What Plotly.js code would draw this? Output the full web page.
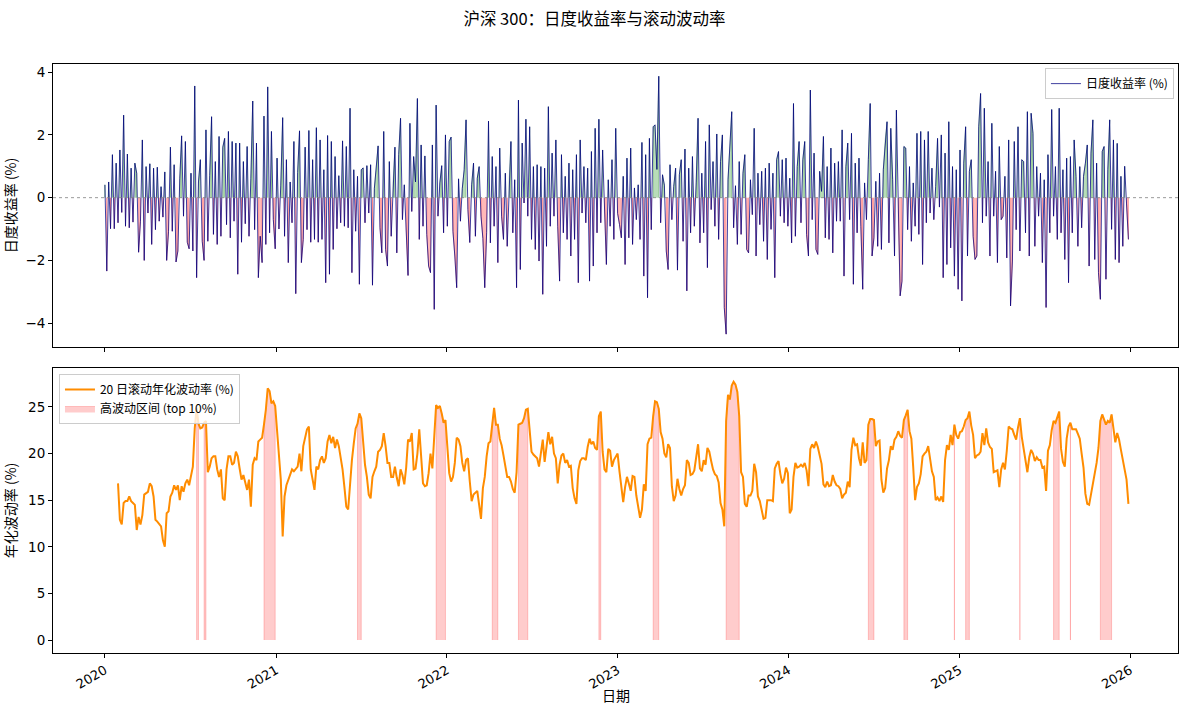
<!DOCTYPE html>
<html><head><meta charset="utf-8">
<script src="https://cdn.plot.ly/plotly-3.0.1.min.js"></script>
<style>html,body{margin:0;padding:0;background:#fff}#chart{width:1189px;height:712px}</style>
</head><body><div id="chart"></div>
<script>
const SERIES_START = '2020-01-01';
const STEP_DAYS = 4;
const VOL_START_INDEX = 7;          // first rolling-vol sample on the same 4-day grid
const HIGH_VOL_THRESHOLD = 23.0;    // top-10% cut-off read from the shading
const TITLE = '沪深 300：日度收益率与滚动波动率';
const RET_NAME = '日度收益率 (%)';
const VOL_NAME = '20 日滚动年化波动率 (%)';
const HIGH_NAME = '高波动区间 (top 10%)';
const RET_AXIS = '日度收益率 (%)';
const VOL_AXIS = '年化波动率 (%)';
const DATE_AXIS = '日期';
const RET_TICKS = [-4, -2, 0, 2, 4];
const VOL_TICKS = [0, 5, 10, 15, 20, 25];

const dailyReturns = [
0.41,-2.34,0.5,-0.99,1.37,-0.99,1.10,-0.80,1.52,-0.47,
2.63,-0.91,1.39,-0.96,0.94,-0.78,1.10,0.78,-1.74,-0.75,
1.84,-2.00,0.99,-0.49,1.08,-1.49,0.94,-1.02,0.97,-0.75,
0.35,-0.62,0.82,-2.0,-1.07,1.61,-1.07,1.05,-2.05,-1.70,
0.6,1.97,-0.59,1.79,-1.42,-1.63,0.78,-1.70,3.56,-2.55,
0.5,1.21,-1.39,-2.0,2.16,-1.39,0.7,2.58,-1.17,1.15,
-1.49,1.95,-1.23,1.61,1.89,-0.86,2.11,-1.28,1.79,-0.75,
1.74,-2.44,1.74,-1.42,1.15,-0.83,1.63,-1.23,0.6,3.08,
-1.02,1.74,-2.55,-1.23,-2.07,2.60,-1.49,3.53,-1.12,2.11,
-0.70,-1.63,1.26,-1.0,0.4,2.55,-1.23,1.21,-2.07,0.5,
-0.80,1.79,-3.06,0.8,2.13,-2.07,-1.33,1.61,-1.02,2.14,
-1.42,1.21,-1.33,2.23,-1.42,1.84,-1.33,0.89,-2.71,1.98,
-2.44,1.79,-1.65,1.31,-0.99,0.7,-0.80,1.81,-0.91,1.63,
-0.96,2.85,-2.39,0.89,-1.07,0.68,-2.76,
0.89,0.95,-0.80,1.02,-0.49,1.05,-2.79,0.3,0.94,1.65,
-0.96,-1.76,2.11,-1.65,-2.18,1.15,-1.23,0.47,1.61,-1.76,
1.37,2.53,-0.70,0.41,-1.02,-2.48,2.37,-0.44,1.31,0.5,
3.16,-1.33,1.68,-0.91,1.33,-1.17,-2.18,-2.39,1.68,-3.56,
2.95,-0.59,0.47,1.02,-1.12,2.0,-0.91,1.79,1.93,-1.07,
-1.86,-2.87,0.6,-0.75,0.3,0.89,2.48,-0.38,-1.43,0.41,
1.1,-1.23,0.62,0.99,-0.59,-1.3,-2.87,-1.12,2.44,-1.44,
1.31,-0.91,0.99,-2.07,1.58,-0.59,-1.33,0.78,-1.55,0.5,
1.79,-1.12,0.57,-2.87,3.11,-2.29,1.74,-0.17,2.50,-0.59,
2.26,-1.33,0.99,-1.65,1.05,-2.02,0.99,-3.08,0.94,-1.55,
2.90,-0.91,1.42,-0.59,1.84,-0.91,-2.66,1.37,-1.12,0.68,
-1.33,1.10,-1.86,0.89,-1.33,1.37,-2.71,1.84,-0.49,0.99,
-0.80,0.94,-2.66,1.47,-2.18,2.21,-1.12,2.50,-0.80,1.52,
-0.28,-2.13,0.57,-0.91,1.21,-1.33,
2.21,-0.5,-0.85,-1.28,0.68,-2.13,1.26,-1.28,1.58,-1.49,
0.31,-0.70,0.41,-1.33,1.76,-2.50,1.37,-3.19,1.89,-1.02,
2.26,2.32,0.9,3.87,-0.80,0.73,0.4,-1.70,-2.29,1.05,
-0.70,0.36,0.94,-2.31,0.73,1.21,-1.39,1.55,-2.97,0.94,
-1.12,1.31,-0.91,0.47,2.53,-1.44,0.78,-1.12,1.79,-2.23,
2.32,-0.38,1.15,-0.91,2.03,-1.33,1.15,2.0,-3.50,-4.35,
0.57,1.65,2.74,-0.96,0.38,-1.49,1.15,-1.17,0.78,1.37,
-1.65,-1.76,0.57,-0.54,2.21,-1.86,0.78,-0.86,0.84,-1.39,
0.94,-1.97,1.10,-1.01,0.78,-2.55,1.21,1.47,-0.59,1.21,
-0.80,1.26,-0.91,0.62,-1.44,3.0,-1.23,0.99,1.79,-0.80,
1.21,1.79,-1.17,-1.86,3.43,-0.70,1.42,-1.65,-1.81,0.84,
0.2,1.95,-1.28,0.99,-1.33,1.58,-1.76,1.10,-0.75,1.15,
-0.75,2.16,-2.50,0.99,1.74,-0.70,2.05,-2.76,1.10,-1.12,
1.26,-0.91,-2.92,0.47,-0.70,1.21,3.0,
-1.86,-1.28,0.52,-1.55,0.78,-1.65,0.89,1.84,2.42,-1.44,
2.21,0.57,-1.86,2.79,-0.54,-3.13,-2.66,1.63,1.58,-1.02,
0.99,-1.39,0.47,-0.91,2.05,-1.17,2.11,-2.13,1.84,-0.80,
2.11,-0.49,0.94,-0.70,0.36,1.89,-0.3,2.0,-2.55,1.42,
-2.13,2.42,-1.60,0.99,-2.50,0.89,-2.92,1.52,-3.29,1.10,
2.26,-1.86,0.84,1.21,-1.23,-1.97,-1.86,2.26,3.32,-0.80,
2.85,-0.59,1.15,-1.86,2.37,-0.59,0.84,-2.07,1.63,-0.70,
-0.59,0.68,-1.92,1.84,-3.45,-2.02,1.79,-1.02,2.26,-1.70,
1.21,1.15,-1.12,2.74,-1.86,2.69,2.05,-1.55,0.99,-0.59,
0.78,-2.07,0.57,-3.50,1.37,-1.12,2.81,-0.59,0.99,-1.33,
2.85,-1.12,0.89,-1.97,1.26,-2.71,1.31,-1.12,1.84,0.68,
-1.55,0.99,-0.96,0.68,1.10,1.68,-2.18,1.42,2.48,-1.97,
1.10,-2.39,-3.24,1.47,1.63,-2.60,0.89,2.48,-1.01,1.84,
-1.97,1.73,-2.07,0.68,-1.55,1.0,-0.2,-1.33
];

const rollingVol = [
16.8,12.9,12.4,14.7,14.9,14.9,15.4,14.9,14.7,14.5,
11.8,13.2,12.4,13.4,15.6,15.8,15.9,16.8,16.5,15.4,
12.9,12.7,12.5,12.2,10.7,10.0,13.6,13.8,15.4,15.8,
16.6,16.1,16.6,15.0,16.5,15.9,16.8,17.2,16.6,17.8,
18.6,22.7,24.9,23.2,22.7,22.8,23.3,23.5,18.0,18.6,
19.5,19.7,19.7,18.3,17.5,18.3,15.2,15.0,18.3,19.7,
19.7,18.8,19.0,20.2,19.7,18.4,17.2,17.7,16.8,16.1,
17.2,14.3,18.8,19.5,19.3,21.3,21.5,21.7,23.1,24.7,
27.0,26.7,25.4,25.6,25.1,22.2,20.0,17.2,11.1,15.4,
16.6,17.2,17.9,18.3,18.1,18.3,18.6,20.0,18.1,20.8,
21.8,22.6,22.9,18.3,17.2,16.1,18.6,18.3,19.3,19.7,
19.0,19.5,21.3,22.0,21.1,21.8,20.6,21.5,20.8,19.7,
18.3,16.4,14.3,14.0,17.2,19.3,21.1,22.7,23.2,24.3,
23.8,21.5,18.8,17.5,15.6,15.2,17.5,18.1,18.6,20.2,
20.4,20.8,22.2,20.8,19.0,19.0,17.5,17.5,18.6,17.4,
16.5,18.3,17.7,16.7,18.5,21.5,21.3,22.2,18.3,18.4,
20.0,22.6,19.5,16.8,16.5,16.6,17.9,20.0,18.4,22.0,
25.2,24.9,25.1,24.3,23.3,23.6,21.0,17.9,17.0,17.5,
19.0,21.7,21.5,20.8,19.0,18.1,19.3,19.5,17.0,14.9,
15.6,15.8,16.0,14.5,13.0,16.3,17.5,19.7,21.1,21.3,
23.2,24.9,23.1,23.1,21.6,20.9,19.8,18.6,17.5,17.5,
17.0,16.2,15.8,18.0,23.1,23.2,23.3,23.8,24.7,24.8,
22.5,20.2,19.9,19.7,19.5,18.6,19.9,21.5,19.1,20.5,
22.3,21.0,21.8,20.0,19.5,16.8,18.8,19.8,20.0,19.0,
19.3,18.6,18.7,16.3,15.2,14.6,18.2,19.2,19.5,19.5,
19.3,20.7,21.6,21.0,21.3,20.6,20.4,24.0,24.5,20.2,
18.3,18.0,20.5,20.3,18.6,19.3,
19.6,20.0,18.1,16.3,14.8,16.4,17.5,16.8,16.0,17.6,
17.5,15.5,14.4,13.1,14.0,16.7,16.0,21.0,21.6,21.7,
24.0,25.6,25.5,24.8,22.3,21.6,20.0,19.6,21.0,20.6,
16.5,14.9,15.5,17.3,16.2,15.5,16.2,16.6,19.3,19.0,
17.7,17.8,18.2,19.5,21.0,18.4,18.1,19.3,18.8,20.6,
20.2,19.2,18.3,17.8,17.6,16.9,14.7,14.0,12.2,23.5,
26.3,25.8,27.3,27.7,27.4,26.6,24.0,18.0,17.5,14.6,
14.3,15.5,15.5,16.0,18.9,18.0,15.4,14.9,14.1,13.0,
13.1,15.0,15.0,15.0,14.9,18.4,18.9,19.2,17.8,16.8,
17.3,18.5,17.9,13.6,14.0,17.5,19.0,18.5,18.6,18.8,
18.6,19.0,18.2,16.5,20.5,21.0,20.6,21.3,20.7,19.9,
18.9,16.7,16.4,17.0,16.5,16.6,17.7,17.0,16.6,16.5,
16.2,15.2,15.6,15.8,17.0,16.4,20.4,21.7,20.9,21.0,
19.5,18.7,21.2,19.0,19.3,23.1,23.7,
23.7,23.6,20.8,21.3,21.4,17.2,15.8,16.3,18.4,19.3,
20.8,20.4,21.5,21.8,22.4,21.9,21.7,23.6,24.1,24.7,
22.4,21.6,18.5,15.0,16.4,16.8,17.8,19.7,20.0,20.2,
20.8,19.2,18.1,17.5,15.0,15.3,14.9,15.4,14.8,19.3,
20.9,20.4,22.0,20.9,23.1,22.0,21.6,22.3,22.4,22.9,
23.6,23.8,24.5,23.0,22.0,19.5,19.8,19.9,20.2,22.2,
20.9,22.7,21.2,20.7,20.5,18.0,18.1,18.2,16.4,18.3,
19.0,18.3,20.3,22.9,22.7,22.6,22.0,21.5,22.8,23.8,
21.8,20.5,19.6,18.0,19.6,20.4,20.0,19.2,19.6,19.3,
19.3,18.5,18.6,16.0,20.3,20.9,22.5,23.5,23.3,23.8,
24.5,20.5,19.1,18.6,21.6,22.9,23.3,22.6,22.6,22.6,
22.1,21.6,20.0,18.5,15.7,14.6,14.5,15.6,17.1,18.2,
19.0,20.6,23.5,24.2,23.7,23.1,23.5,23.3,24.2,22.5,
21.2,22.2,21.5,20.4,19.3,18.3,17.2,14.6
];

// ---- build the date grid ----
const DAY_MS = 86400000;
const startMs = Date.parse(SERIES_START + 'T00:00:00Z');
function gridDate(i) { return new Date(startMs + i * STEP_DAYS * DAY_MS).toISOString().slice(0, 10); }
const retDates = dailyReturns.map((_, i) => gridDate(i));
const volDates = rollingVol.map((_, i) => gridDate(i + VOL_START_INDEX));

// fill_between(where=...) equivalent: one closed polygon per contiguous run, separated by gaps
function runPolygons(dates, vals, test) {
  const xs = [], ys = [];
  let i = 0;
  while (i < vals.length) {
    if (test(vals[i])) {
      let j = i;
      while (j + 1 < vals.length && test(vals[j + 1])) j++;
      xs.push(dates[i]); ys.push(0);
      for (let k = i; k <= j; k++) { xs.push(dates[k]); ys.push(vals[k]); }
      xs.push(dates[j]); ys.push(0);
      xs.push(null); ys.push(null);
      i = j + 1;
    } else i++;
  }
  return {x: xs, y: ys};
}
const posPoly = runPolygons(retDates, dailyReturns, v => v > 0);
const negPoly = runPolygons(retDates, dailyReturns, v => v < 0);
const highPoly = runPolygons(volDates, rollingVol, v => v > HIGH_VOL_THRESHOLD);

const CJK = 'Noto Sans CJK SC, DejaVu Sans, sans-serif';
const NUM = 'DejaVu Sans, Noto Sans CJK SC, sans-serif';

const traces = [
  {x: posPoly.x, y: posPoly.y, xaxis: 'x', yaxis: 'y', type: 'scatter', mode: 'lines',
   fill: 'toself', fillcolor: 'rgba(0,128,0,0.28)', line: {width: 1, color: 'rgba(0,128,0,0.28)'},
   connectgaps: false, showlegend: false, hoverinfo: 'skip'},
  {x: negPoly.x, y: negPoly.y, xaxis: 'x', yaxis: 'y', type: 'scatter', mode: 'lines',
   fill: 'toself', fillcolor: 'rgba(255,0,0,0.28)', line: {width: 1, color: 'rgba(255,0,0,0.28)'},
   connectgaps: false, showlegend: false, hoverinfo: 'skip'},
  {x: retDates, y: dailyReturns, xaxis: 'x', yaxis: 'y', type: 'scatter', mode: 'lines',
   name: RET_NAME, line: {color: 'rgba(0,0,128,0.75)', width: 1}, legend: 'legend'},
  {x: highPoly.x, y: highPoly.y, xaxis: 'x2', yaxis: 'y2', type: 'scatter', mode: 'lines',
   fill: 'toself', fillcolor: 'rgba(255,0,0,0.2)', line: {width: 1, color: 'rgba(255,0,0,0.2)'},
   connectgaps: false, name: HIGH_NAME, legend: 'legend2', legendrank: 2, hoverinfo: 'skip'},
  {x: volDates, y: rollingVol, xaxis: 'x2', yaxis: 'y2', type: 'scatter', mode: 'lines',
   name: VOL_NAME, line: {color: '#ff8c00', width: 2}, legend: 'legend2', legendrank: 1}
];

const xCommon = {
  type: 'date', range: ['2019-09-12', '2026-04-13'], tick0: '2020-01-01', dtick: 'M12',
  ticks: 'outside', ticklen: 4, tickwidth: 1, tickcolor: '#000',
  showline: true, linecolor: '#000', linewidth: 1, mirror: true,
  showgrid: false, zeroline: false
};
const yCommon = {
  ticks: 'outside', ticklen: 4, tickwidth: 1, tickcolor: '#000',
  showline: true, linecolor: '#000', linewidth: 1, mirror: true,
  showgrid: false, zeroline: false, tickfont: {family: NUM, size: 13.5, color: '#000'}
};

const layout = {
  width: 1189, height: 712,
  margin: {l: 53, r: 11, t: 64, b: 59},
  paper_bgcolor: '#fff', plot_bgcolor: '#fff',
  font: {family: CJK, size: 14, color: '#000'},
  title: {text: TITLE, x: 0.5, xanchor: 'center', y: 0.973, yanchor: 'middle',
          font: {family: CJK, size: 16.5, color: '#000'}},
  showlegend: true,
  xaxis: Object.assign({}, xCommon, {anchor: 'y', matches: 'x2', showticklabels: false}),
  xaxis2: Object.assign({}, xCommon, {anchor: 'y2', tickformat: '%Y', tickangle: -30,
          tickfont: {family: NUM, size: 13, color: '#000'}}),
  yaxis: Object.assign({}, yCommon, {domain: [0.5195, 1], anchor: 'x', range: [-4.76, 4.26],
          tickvals: RET_TICKS, title: {text: RET_AXIS, font: {family: CJK, size: 14}, standoff: 8}}),
  yaxis2: Object.assign({}, yCommon, {domain: [0, 0.4839], anchor: 'x2', range: [-1.39, 29.18],
          tickvals: VOL_TICKS, title: {text: VOL_AXIS, font: {family: CJK, size: 14}, standoff: 8}}),
  annotations: [{text: DATE_AXIS, xref: 'paper', yref: 'paper', x: 0.5, y: -0.0713,
                 xanchor: 'center', yanchor: 'middle', showarrow: false,
                 font: {family: CJK, size: 14, color: '#000'}}],
  shapes: [{type: 'line', xref: 'x domain', x0: 0, x1: 1, yref: 'y', y0: 0, y1: 0,
            line: {color: 'gray', width: 0.8, dash: 'dot'}, layer: 'above'}],
  legend: {x: 0.9964, xanchor: 'right', y: 0.993, yanchor: 'top',
           bgcolor: 'rgba(255,255,255,0.8)', bordercolor: '#cccccc', borderwidth: 1,
           font: {family: CJK, size: 12, color: '#000'}, itemwidth: 30, tracegroupgap: 2},
  legend2: {x: 0.0053, xanchor: 'left', y: 0.4737, yanchor: 'top', traceorder: 'normal',
           bgcolor: 'rgba(255,255,255,0.8)', bordercolor: '#cccccc', borderwidth: 1,
           font: {family: CJK, size: 12, color: '#000'}, itemwidth: 30, tracegroupgap: 0}
};

Plotly.newPlot('chart', traces, layout, {displayModeBar: false, staticPlot: true});
</script>
</body></html>
